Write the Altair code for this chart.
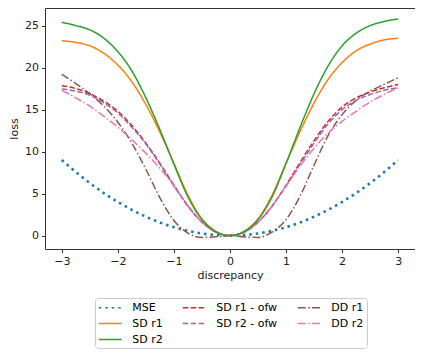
import altair as alt
import pandas as pd

x_vals = [-3.0, -2.75, -2.5, -2.25, -2.0, -1.75, -1.5, -1.25, -1.0, -0.75, -0.5, -0.25, 0.0,
          0.25, 0.5, 0.75, 1.0, 1.25, 1.5, 1.75, 2.0, 2.25, 2.5, 2.75, 3.0]

mse = [9.0, 7.56, 6.25, 5.06, 4.0, 3.06, 2.25, 1.56, 1.0, 0.56, 0.25, 0.06, 0.0,
       0.06, 0.25, 0.56, 1.0, 1.56, 2.25, 3.06, 4.0, 5.06, 6.25, 7.56, 9.0]
sd_r1 = [23.2, 23.0, 22.6, 21.7, 20.3, 18.3, 15.6, 12.3, 8.6, 4.8, 2.0, 0.5, 0.0,
         0.5, 2.0, 4.8, 8.6, 12.4, 15.8, 18.6, 20.6, 22.0, 22.8, 23.3, 23.5]
sd_r2 = [25.4, 25.0, 24.5, 23.5, 21.9, 19.6, 16.4, 12.6, 8.5, 4.6, 1.9, 0.45, 0.0,
         0.45, 1.9, 4.6, 8.6, 12.9, 16.9, 20.2, 22.6, 24.1, 25.0, 25.5, 25.8]
sd_r1_ofw = [17.85, 17.5, 16.9, 16.0, 14.8, 13.1, 11.0, 8.6, 6.0, 3.5, 1.6, 0.4, 0.0,
             0.4, 1.6, 3.5, 6.0, 8.7, 11.3, 13.6, 15.3, 16.4, 17.1, 17.6, 18.0]
sd_r2_ofw = [17.45, 17.2, 16.7, 15.8, 14.6, 12.9, 10.9, 8.5, 5.9, 3.5, 1.6, 0.4, 0.0,
             0.4, 1.6, 3.5, 5.9, 8.5, 11.0, 13.3, 15.0, 16.1, 16.8, 17.3, 17.6]
dd_r1 = [19.2, 18.1, 16.9, 15.4, 13.5, 11.0, 7.9, 4.5, 1.8, 0.3, -0.22, -0.15, 0.0,
         -0.15, -0.22, 0.4, 1.9, 4.7, 8.4, 11.9, 14.4, 16.1, 17.2, 18.0, 18.8]
dd_r2 = [17.3, 16.4, 15.4, 14.2, 12.9, 11.4, 9.8, 8.0, 5.9, 3.6, 1.6, 0.4, 0.0,
         0.4, 1.6, 3.5, 5.9, 8.3, 10.4, 12.2, 13.6, 14.8, 15.9, 16.8, 17.6]

series_names = ["MSE", "SD r1", "SD r2", "SD r1 - ofw", "SD r2 - ofw", "DD r1", "DD r2"]
series_values = [mse, sd_r1, sd_r2, sd_r1_ofw, sd_r2_ofw, dd_r1, dd_r2]

# legend order (row-major filling to mimic matplotlib's column-major ncol=3)
legend_order = ["MSE", "SD r1 - ofw", "DD r1", "SD r1", "SD r2 - ofw", "DD r2", "SD r2"]
colors = {"MSE": "#1f77b4", "SD r1": "#ff7f0e", "SD r2": "#2ca02c", "SD r1 - ofw": "#d62728",
          "SD r2 - ofw": "#9467bd", "DD r1": "#8c564b", "DD r2": "#e377c2"}
dashes = {"MSE": [2.5, 4], "SD r1": [1, 0], "SD r2": [1, 0], "SD r1 - ofw": [5.5, 2.4],
          "SD r2 - ofw": [5.5, 2.4], "DD r1": [8, 2.4, 1.5, 2.4], "DD r2": [8, 2.4, 1.5, 2.4]}

lookup = dict(zip(series_names, series_values))
rows = []
for name in legend_order:
    for xv, yv in zip(x_vals, lookup[name]):
        rows.append({"series": name, "discrepancy": xv, "loss": yv})
df = pd.DataFrame(rows)

font = "DejaVu Sans"

chart = alt.Chart(df).mark_line(interpolate="monotone").encode(
    x=alt.X("discrepancy:Q",
            scale=alt.Scale(domain=[-3.3, 3.3], nice=False, zero=False),
            axis=alt.Axis(values=[-3, -2, -1, 0, 1, 2, 3], format="d",
                          labelExpr="replace(datum.label, '-', '\u2212')",
                          title="discrepancy")),
    y=alt.Y("loss:Q",
            scale=alt.Scale(domain=[-1.6, 27.1], nice=False, zero=False),
            axis=alt.Axis(values=[0, 5, 10, 15, 20, 25], title="loss")),
    color=alt.Color("series:N",
                    scale=alt.Scale(domain=legend_order, range=[colors[s] for s in legend_order]),
                    legend=alt.Legend(title=None, orient="none", legendX=50, legendY=290,
                                      direction="horizontal",
                                      columns=3, symbolType="M-2,0H2", symbolSize=132,
                                      symbolOffset=5.75, symbolStrokeWidth=1.5,
                                      columnPadding=16, rowPadding=4, labelOffset=15.5,
                                      labelFontSize=11, labelFont=font, labelColor="#000",
                                      padding=3, strokeColor="#cccccc", cornerRadius=3,
                                      fillColor="white")),
    strokeDash=alt.StrokeDash("series:N",
                              scale=alt.Scale(domain=legend_order, range=[dashes[s] for s in legend_order])),
    strokeWidth=alt.condition("datum.series == 'MSE'", alt.value(2.6), alt.value(1.5)),
).properties(
    width=370, height=241,
    autosize=alt.AutoSizeParams(type="none"),
    padding={"left": 37, "top": 0, "right": 0, "bottom": 102},
).configure_view(
    stroke="#333333", strokeWidth=1
).configure_axis(
    grid=False, domain=False, tickColor="#333333", tickSize=3.5, tickWidth=1,
    labelFont=font, labelFontSize=11, labelColor="#222222", labelPadding=3,
    titleFont=font, titleFontSize=11, titleColor="#222222", titleFontWeight="normal",
).configure_axisY(
    titlePadding=5
).configure_axisX(
    titlePadding=3
)

chart.save("out.html", embed_options={"renderer": "svg", "actions": False})
